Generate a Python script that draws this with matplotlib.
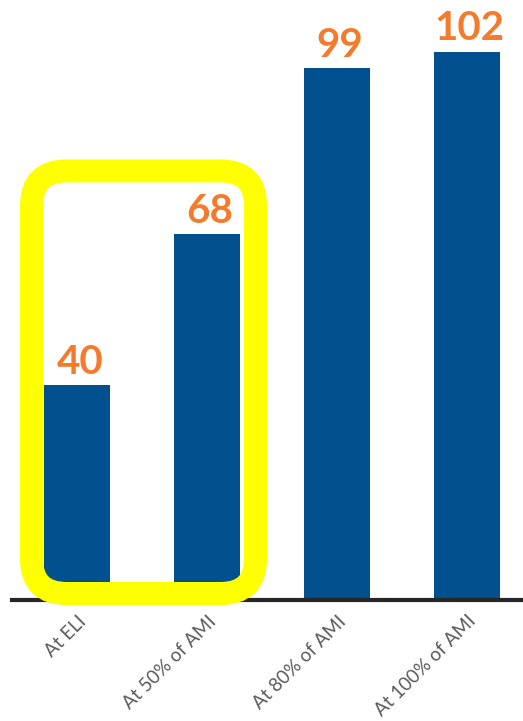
import matplotlib.pyplot as plt
from matplotlib.patches import FancyBboxPatch
from matplotlib.transforms import IdentityTransform
import numpy as np

categories = ["At ELI", "At 50% of AMI", "At 80% of AMI", "At 100% of AMI"]
values = [40, 68, 99, 102]
highlight = [0, 1]  # bars inside the yellow box

BAR_COLOR = "#03508F"
LABEL_COLOR = "#F47B2C"
DPI = 100

fig = plt.figure(figsize=(5.23, 7.21), dpi=DPI)
ax = fig.add_axes([12 / 523, 121 / 721, 1 - 12 / 523, 600 / 721])

x = np.arange(len(categories))
width = 0.508
bars = ax.bar(x, values, width=width, color=BAR_COLOR, zorder=2)

ax.set_xlim(-0.5, 3.43)
ax.set_ylim(0, 111.6)

for b, v in zip(bars, values):
    ax.annotate(str(v), (b.get_x() + b.get_width() / 2, v),
                xytext=(2, 3), textcoords="offset points",
                ha="center", va="bottom", fontsize=29, fontweight="bold",
                family=["Lato", "DejaVu Sans"], color=LABEL_COLOR)

for s in ["top", "right", "left"]:
    ax.spines[s].set_visible(False)
ax.spines["bottom"].set_linewidth(3)
ax.spines["bottom"].set_color("#262626")
ax.set_yticks([])
ax.set_xticks(x)
ax.set_xticklabels(categories, rotation=45, ha="right", rotation_mode="anchor",
                   fontsize=13.5, color="#5a5a5a", family=["Lato", "DejaVu Sans"])
ax.tick_params(axis="x", length=0, pad=9)

# yellow rounded highlight box around the first two bars
lo = ax.transData.transform((highlight[0] - width / 2, 0))
hi = ax.transData.transform((highlight[-1] + width / 2, values[highlight[-1]]))
x0, x1 = lo[0] - 12.5, hi[0] + 15.5
y0, y1 = lo[1] + 6.5, hi[1] + 63.5
box = FancyBboxPatch((x0, y0), x1 - x0, y1 - y0,
                     boxstyle="round,pad=0,rounding_size=35",
                     transform=IdentityTransform(), fill=False,
                     edgecolor="#FFFF00", linewidth=23 * 72 / DPI, zorder=5,
                     clip_on=False)
fig.add_artist(box)

fig.savefig("out.png", dpi=DPI)
